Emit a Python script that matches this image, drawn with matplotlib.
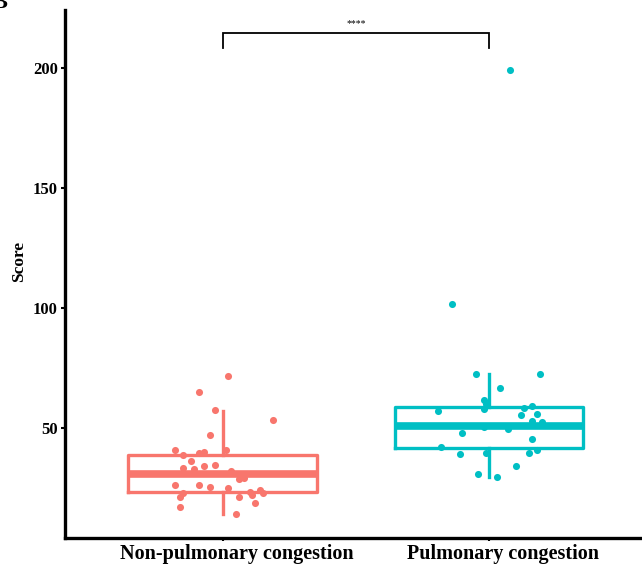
import numpy as np
import matplotlib.pyplot as plt
from matplotlib.transforms import ScaledTranslation

plt.rcParams['font.family'] = ['Liberation Serif', 'DejaVu Serif']

groups = ['Non-pulmonary congestion', 'Pulmonary congestion']
colors = ['#F8766D', '#00BFC4']

# summary stats (median, q1, q3, whisker low, whisker high)
box_stats = [
    dict(med=30.8, q1=23.5, q3=38.8, whislo=14.2, whishi=57.2),
    dict(med=50.8, q1=41.7, q3=58.8, whislo=29.6, whishi=72.5),
]

# jittered points: (x offset from the group centre, score)
non_dx = [0.02, -0.09, -0.03, 0.19, -0.05, -0.18, -0.15, -0.09, -0.07, 0.01,
          -0.12, -0.15, -0.11, -0.07, -0.03, 0.03, 0.06, 0.08, -0.18, -0.09,
          -0.05, 0.02, 0.10, 0.11, 0.14, 0.15, -0.15, -0.16, 0.06, 0.12,
          -0.16, 0.05]
non_y = [71.7, 65.1, 57.4, 53.1, 47.1, 40.6, 38.8, 39.4, 40.1, 40.6,
         36.1, 33.5, 32.8, 34.2, 34.4, 32.0, 28.8, 29.0, 26.4, 26.4,
         25.3, 25.0, 23.5, 22.1, 24.2, 23.1, 22.8, 21.1, 21.1, 18.9,
         17.1, 14.2]
pul_dx = [0.08, -0.14, -0.05, 0.19, 0.04, -0.02, -0.01, 0.16, 0.13, -0.02,
          -0.19, 0.18, 0.12, 0.16, 0.20, -0.02, 0.07, -0.10, 0.16, -0.18,
          0.18, 0.15, -0.01, -0.11, 0.10, -0.04, 0.03]
pul_y = [199.2, 101.5, 72.6, 72.5, 66.8, 61.7, 59.9, 59.2, 58.2, 57.8,
         57.0, 55.6, 55.4, 52.9, 52.6, 50.3, 49.6, 48.0, 45.3, 42.0,
         40.8, 39.4, 39.7, 39.0, 34.2, 30.7, 29.6]

fig = plt.figure(figsize=(6.42, 5.65), dpi=100)
ax = fig.add_axes([0.101, 0.048, 0.899, 0.934])

for i, (st, c) in enumerate(zip(box_stats, colors)):
    pos = i + 1
    st = dict(st, fliers=[])
    ax.bxp([st], positions=[pos], widths=0.71, showcaps=False,
           patch_artist=False,
           boxprops=dict(color=c, linewidth=2.4),
           whiskerprops=dict(color=c, linewidth=2.4),
           medianprops=dict(color=c, linewidth=5.5, solid_capstyle='butt'),
           zorder=2)

ax.scatter(1 + np.array(non_dx), non_y, s=26, color=colors[0], lw=0, zorder=3)
ax.scatter(2 + np.array(pul_dx), pul_y, s=26, color=colors[1], lw=0, zorder=3)

# significance bracket
ax.plot([1, 1, 2, 2], [208.3, 214.6, 214.6, 208.3], color='black', lw=1.3,
        solid_joinstyle='miter')
ax.text(1.5, 216.5, '****', ha='center', va='bottom', fontsize=7)

ax.set_xlim(0.406, 2.575)
ax.set_ylim(4.2, 224)
ax.set_yticks([50, 100, 150, 200])
ax.set_xticks([1, 2])
ax.set_xticklabels([])
# group names sit a little right of the ticks in the original
shift = ScaledTranslation(0.14, -0.06, fig.dpi_scale_trans)
for pos, g in zip([1, 2], groups):
    ax.text(pos, 0, g, transform=ax.get_xaxis_transform() + shift,
            ha='center', va='top', fontsize=14.5, fontweight='bold')
ax.tick_params(axis='y', labelsize=12, width=1.5, length=3, pad=2)
ax.tick_params(axis='x', width=1.5, length=2.5)
for lab in ax.get_yticklabels():
    lab.set_fontweight('bold')
ax.set_ylabel('Score', fontsize=12.5, fontweight='bold')
ax.yaxis.set_label_coords(-0.066, 0.523)

for s in ['top', 'right']:
    ax.spines[s].set_visible(False)
for s in ['left', 'bottom']:
    ax.spines[s].set_linewidth(2.4)

# cropped panel letter in the corner
fig.text(-0.012, 1.012, 'B', fontsize=16, fontweight='bold', ha='left', va='top')

fig.savefig('out.png', dpi=100)
